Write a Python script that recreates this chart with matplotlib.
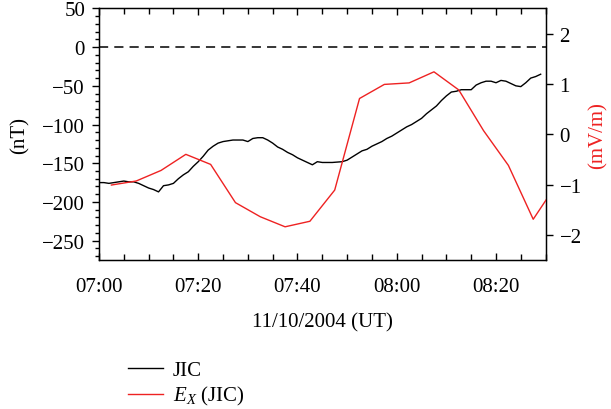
import numpy as np
import pandas as pd
import matplotlib
matplotlib.use("Agg")
import matplotlib.pyplot as plt
import matplotlib.dates as mdates
from matplotlib.ticker import MultipleLocator

# JIC, 1-min samples from 07:00 (nT)
jic_nt = [-175, -175, -176, -175, -174, -173, -174, -174, -176, -179,
          -182, -184, -187, -179, -178, -176, -170, -165, -161, -154,
          -148, -141, -133, -128, -124, -122, -121, -120, -120, -120,
          -122, -118, -117, -117, -120, -124, -129, -132, -136, -139,
          -143, -146, -149, -152, -148, -149, -149, -149, -148.5, -148,
          -146, -142, -138, -134, -132, -128, -125, -122, -118, -115,
          -111, -107, -103, -100, -96, -92, -86, -81, -76, -69,
          -63, -58, -57, -55, -55, -55, -49, -46, -44, -44,
          -46, -43, -44, -47, -50, -51, -46, -40, -38, -35]
jic_time = pd.date_range("2004-10-11 07:00", periods=len(jic_nt), freq="1min")

# Ex (JIC), 5-min samples from 07:02:30 (mV/m)
ex_mvm = [-1.01, -0.93, -0.72, -0.40, -0.60, -1.36, -1.64, -1.84, -1.73, -1.11,
          0.71, 0.99, 1.02, 1.24, 0.88, 0.07, -0.62, -1.69, -0.95]
ex_time = pd.date_range("2004-10-11 07:02:30", periods=len(ex_mvm), freq="5min")

plt.rcParams["font.family"] = ["Liberation Serif", "DejaVu Serif"]
plt.rcParams["mathtext.fontset"] = "custom"
plt.rcParams["mathtext.rm"] = "Liberation Serif"
plt.rcParams["mathtext.it"] = "Liberation Serif:italic"
plt.rcParams["font.size"] = 15

red = "#ee2222"

fig = plt.figure(figsize=(6.11, 4.10), dpi=100)
ax = fig.add_axes([0.162, 0.3634, 0.731, 0.6136])
ax2 = ax.twinx()

l1, = ax.plot(jic_time, jic_nt, color="black", lw=1.0, label="JIC")
ax.axhline(0, color="black", lw=1.1, dashes=(6, 4))
l2, = ax2.plot(ex_time, ex_mvm, color=red, lw=1.0, label=r"$E_X$ (JIC)")

ax.set_xlim(pd.Timestamp("2004-10-11 07:00"), pd.Timestamp("2004-10-11 08:30"))
ax.set_ylim(-275, 50)
ax2.set_ylim(-2.5, 2.5)

ax.xaxis.set_major_locator(mdates.MinuteLocator(byminute=[0, 20, 40]))
ax.xaxis.set_minor_locator(mdates.MinuteLocator(byminute=range(0, 60, 5)))
ax.xaxis.set_major_formatter(mdates.DateFormatter("%H:%M"))
ax.yaxis.set_major_locator(MultipleLocator(50))
ax.yaxis.set_minor_locator(MultipleLocator(10))
ax2.yaxis.set_major_locator(MultipleLocator(1))

ax.tick_params(axis="x", which="both", direction="in", top=True, bottom=True, pad=12)
ax.tick_params(axis="x", which="major", length=5, width=1)
ax.tick_params(axis="x", which="minor", length=4, width=1)
ax.tick_params(axis="y", which="both", direction="out", right=False, pad=5)
ax.tick_params(axis="y", which="major", length=5, width=1)
ax.tick_params(axis="y", which="minor", length=3, width=1)
ax2.tick_params(axis="y", direction="out", length=5, width=1, pad=5)

ax.set_ylabel("(nT)", labelpad=9)
ax2.set_ylabel("(mV/m)", color=red, labelpad=5)
ax.set_xlabel("11/10/2004 (UT)", labelpad=12)

for s in ax.spines.values():
    s.set_linewidth(1.0)

fig.legend([l1, l2], ["JIC", r"$E_X$ (JIC)"], loc="upper left",
           bbox_to_anchor=(0.2095, 0.118), frameon=False, borderpad=0,
           borderaxespad=0, handlelength=1.7, handletextpad=0.45,
           labelspacing=0.2, fontsize=15)

fig.savefig("out.png", dpi=100)
